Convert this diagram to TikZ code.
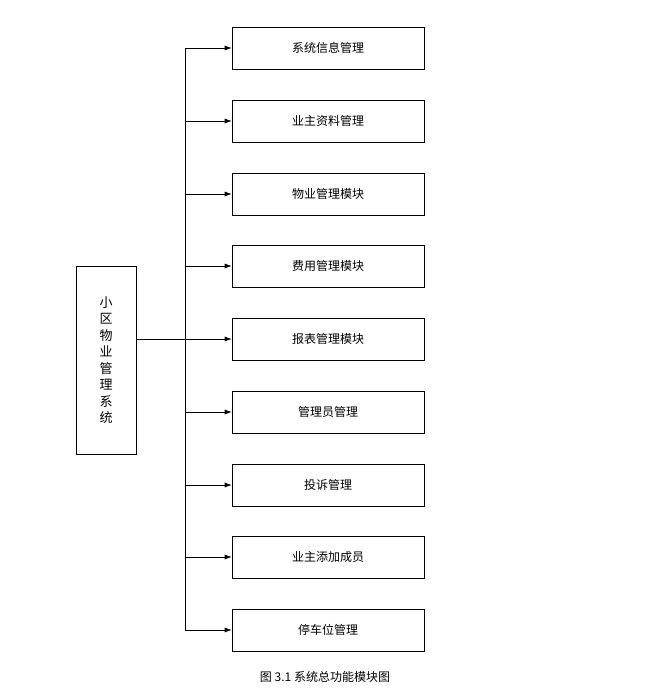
\documentclass[tikz,border=0pt]{standalone}
\usepackage{fontspec}
\setmainfont{Noto Sans CJK SC}
\usetikzlibrary{arrows.meta}
\begin{document}
\begin{tikzpicture}[x=1pt,y=-1pt,
  mod/.style={draw,line width=0.6pt,minimum width=192pt,minimum height=42pt,inner sep=0pt,font=\fontsize{12}{14}\selectfont},
  arr/.style={-{Latex[length=7pt,width=5pt]},line width=0.6pt}]
\useasboundingbox (0,0) rectangle (671,693);
\node[draw,line width=0.6pt,minimum width=60pt,minimum height=188pt,inner sep=0pt,align=center,font=\fontsize{13}{16.5}\selectfont] (root) at (106,360) {小\\区\\物\\业\\管\\理\\系\\统};
\coordinate (jn) at (185,339);
\coordinate (top) at (185,48);
\coordinate (bot) at (185,630);
\draw[line width=0.6pt] (top) -- (bot);
\draw[line width=0.6pt] (root.east |- jn) -- (jn);
\foreach \i/\t/\y in {1/系统信息管理/48,2/业主资料管理/121,3/物业管理模块/194,4/费用管理模块/266,5/报表管理模块/339,6/管理员管理/412,7/投诉管理/485,8/业主添加成员/557,9/停车位管理/630}{
  \node[mod] (m\i) at (328,\y) {\raisebox{2pt}{\t}};
  \coordinate (b\i) at (185,\y);
  \draw[arr] (b\i) -- (m\i.west);
}
\node[font=\fontsize{12}{14}\selectfont] (cap) at (325,677) {图 3.1 系统总功能模块图};
\end{tikzpicture}
\end{document}
